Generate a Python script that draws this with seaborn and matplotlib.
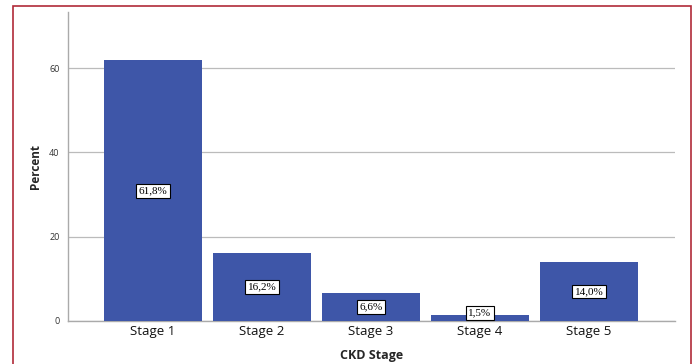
import matplotlib
matplotlib.use("Agg")
import matplotlib.pyplot as plt
from matplotlib.patches import Rectangle
import seaborn as sns
import pandas as pd

stages = ["Stage 1", "Stage 2", "Stage 3", "Stage 4", "Stage 5"]
percent = [61.8, 16.2, 6.6, 1.5, 14.0]
y_ticks = [0, 20, 40, 60]

bar_color = "#3E56A8"

sns.set_theme(style="white")
plt.rcParams["font.family"] = ["Open Sans", "DejaVu Sans"]

df = pd.DataFrame({"stage": stages, "percent": percent})

fig = plt.figure(figsize=(6.96, 3.64), dpi=100)
ax = fig.add_axes([68 / 696, 1 - 321 / 364, (675 - 68) / 696, (321 - 12) / 364])

sns.barplot(data=df, x="stage", y="percent", color=bar_color, saturation=1,
            width=0.9, ax=ax, zorder=3)
for p in ax.patches:
    p.set_edgecolor("none")

ax.set_xlim(-0.78, 4.79)
ax.set_ylim(0, 73.3)
ax.set_yticks(y_ticks)
ax.set_yticklabels([str(v) for v in y_ticks], fontsize=6.5, color="#333333")
ax.tick_params(axis="x", labelsize=9.5, length=0, pad=3, colors="#111111")
ax.tick_params(axis="y", length=0, pad=6)
ax.yaxis.grid(True, color="#BBBBBB", linewidth=0.9, zorder=0)
ax.set_axisbelow(True)

for side in ["top", "right"]:
    ax.spines[side].set_visible(False)
for side in ["left", "bottom"]:
    ax.spines[side].set_color("#AAAAAA")
    ax.spines[side].set_linewidth(1.0)

ax.set_ylabel("Percent", fontsize=8.5, fontweight="bold", labelpad=5)
ax.set_xlabel("CKD Stage", fontsize=9, fontweight="bold", labelpad=8)

# value labels in boxes at half bar height
for i, v in enumerate(percent):
    y = max(v / 2, 2.0)
    ax.text(i, y, f"{v:.1f}%".replace(".", ","), ha="center", va="center",
            fontsize=8, family=["Liberation Serif", "DejaVu Serif"],
            color="black", zorder=5,
            bbox=dict(boxstyle="square,pad=0.22", facecolor="white",
                      edgecolor="black", linewidth=0.8))

# dark red frame around the figure
fig.patches.append(Rectangle((13 / 696, -0.02), (691 - 13) / 696, 1 - 6 / 364 + 0.02,
                             transform=fig.transFigure, fill=False,
                             edgecolor="#B02A38", linewidth=1.2))

fig.savefig("out.png", dpi=100)
